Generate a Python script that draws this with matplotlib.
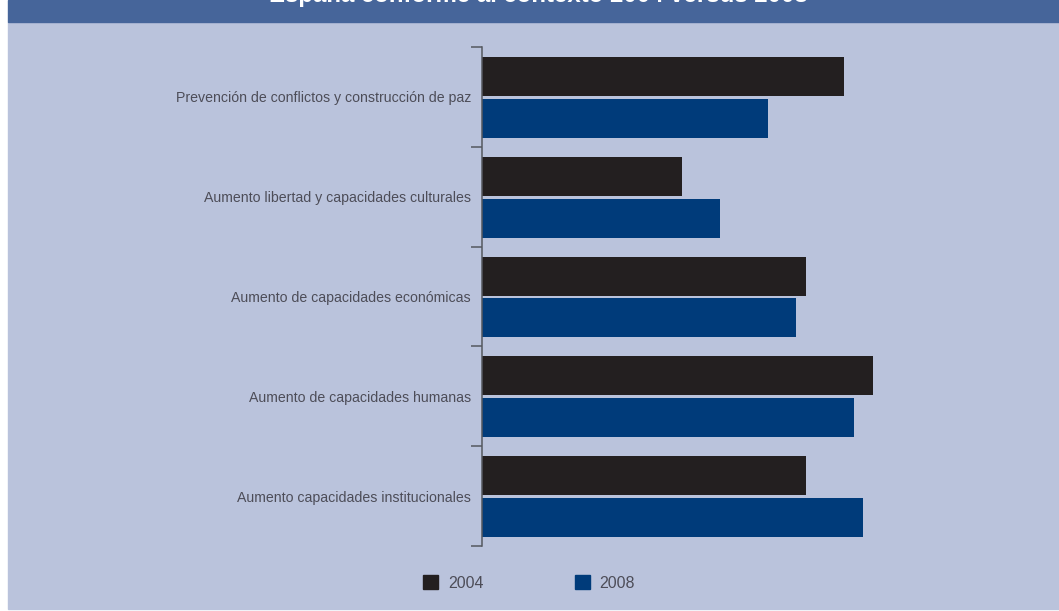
import matplotlib
matplotlib.use('Agg')
import matplotlib.pyplot as plt
from matplotlib.patches import Patch, Rectangle
import numpy as np


TITLE = 'España conforme al contexto 2004 versus 2008'
CATEGORIES = ['Prevención de conflictos y construcción de paz',
              'Aumento libertad y capacidades culturales',
              'Aumento de capacidades económicas',
              'Aumento de capacidades humanas',
              'Aumento capacidades institucionales']
VALUES_2004 = [90.5, 50.0, 81.0, 97.8, 81.0]
VALUES_2008 = [71.5, 59.5, 78.5, 93.0, 95.3]
SERIES_LABELS = ['2004', '2008']

BG = '#bac3dc'
BAND = '#46659a'
C2004 = '#231f20'
C2008 = '#003b7a'
TEXT = '#4d4d58'
FONTS = ['Liberation Sans', 'DejaVu Sans']


def draw_frame(fig):
    # light panel with a darker heading band, leaving a thin white margin
    W, H = 1059.0, 611.0
    fig.patches.append(Rectangle((8 / W, 2 / H), 1 - 8 / W, 1 - 24 / H,
                                 transform=fig.transFigure, color=BG, zorder=-2))
    fig.patches.append(Rectangle((8 / W, 1 - 22 / H), 1 - 8 / W, 22 / H,
                                 transform=fig.transFigure, color=BAND, zorder=-2))
    fig.text(538 / W, 1 - 2 / H, TITLE, color='white', fontsize=17.3,
             fontweight='bold', ha='center', va='baseline', family=FONTS)


def main():
    fig = plt.figure(figsize=(10.59, 6.11), dpi=100)
    fig.patch.set_facecolor('white')
    draw_frame(fig)

    ax = fig.add_axes([482 / 1059, 1 - 546 / 611, 1 - 482 / 1059, 499 / 611])
    ax.set_facecolor('none')

    y = np.arange(len(CATEGORIES))
    h = 0.39
    ax.barh(y - 0.205, VALUES_2004, height=h, color=C2004)
    ax.barh(y + 0.215, VALUES_2008, height=h, color=C2008)

    ax.set_ylim(len(CATEGORIES) - 0.5, -0.5)
    ax.set_xlim(0, 144.25)

    ax.set_yticks(y)
    ax.set_yticklabels(CATEGORIES, fontsize=10.2, color=TEXT, family=FONTS)
    ax.set_yticks(np.arange(len(CATEGORIES) + 1) - 0.5, minor=True)
    ax.tick_params(axis='y', which='major', length=0, pad=8)
    ax.tick_params(axis='y', which='minor', length=8, width=1.1, color='#55585f')
    ax.set_xticks([])

    for side in ['top', 'right', 'bottom']:
        ax.spines[side].set_visible(False)
    ax.spines['left'].set_color('#55585f')
    ax.spines['left'].set_linewidth(1.1)

    handles = [Patch(color=C2004), Patch(color=C2008)]
    fig.legend(handles, SERIES_LABELS, loc='center', ncol=2,
               bbox_to_anchor=(529 / 1059, 1 - 583 / 611), frameon=False,
               handlelength=0.95, handleheight=0.95, handletextpad=0.6,
               columnspacing=5.7, prop={'family': FONTS, 'size': 11.5},
               labelcolor=TEXT)

    fig.savefig('out.png', dpi=100, facecolor=fig.get_facecolor())


if __name__ == '__main__':
    main()
